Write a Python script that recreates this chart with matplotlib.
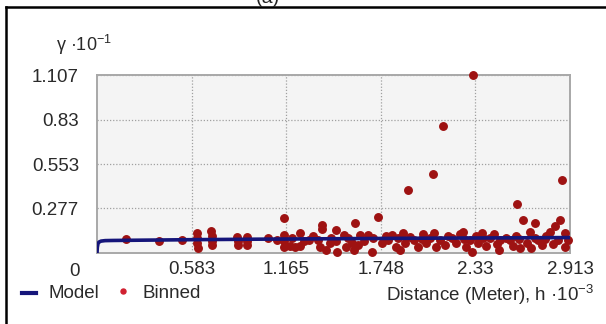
import matplotlib
matplotlib.use("Agg")
import matplotlib.pyplot as plt
from matplotlib.lines import Line2D

# ---- data -------------------------------------------------------------
# fitted semivariogram model (lag h in 10^3 m, gamma in 10^-1)
model_h = [0, 0.002, 0.006, 0.012, 0.025, 0.05, 0.1, 0.3, 0.6, 1.0, 1.5, 2.0, 2.5, 2.913]
model_g = [0, 0.035, 0.058, 0.068, 0.074, 0.077, 0.078, 0.080, 0.083, 0.086, 0.089, 0.092, 0.094, 0.096]

# binned empirical semivariances
binned_h = [
    0.179, 0.382, 0.524, 0.616, 0.616, 0.616, 0.622, 0.702, 0.708, 0.708, 0.708,
    0.862, 0.868, 0.868, 0.924, 0.924, 0.924, 1.053, 1.109, 1.152, 1.152, 1.152,
    1.152, 1.189, 1.219, 1.250, 1.250, 1.275, 1.306, 1.361, 1.373, 1.386, 1.386,
    1.410, 1.435, 1.472, 1.478, 1.472, 1.546, 1.571, 1.589, 1.607, 1.620, 1.583,
    1.534, 1.669, 1.694, 1.644, 1.731, 1.755, 1.792, 1.817, 1.842, 1.854, 1.885,
    1.897, 1.866, 1.915, 1.952, 1.977, 2.008, 2.026, 2.051, 2.069, 2.088, 2.076,
    2.131, 2.113, 2.143, 2.186, 2.211, 2.236, 2.254, 2.273, 2.297, 2.310, 2.316,
    2.334, 2.347, 2.371, 2.396, 2.420, 2.445, 2.464, 2.482, 2.476, 2.544, 2.562,
    2.587, 2.581, 2.605, 2.624, 2.648, 2.667, 2.673, 2.698, 2.716, 2.741, 2.765,
    2.790, 2.808, 2.821, 2.839, 2.852, 2.864, 2.882, 2.882, 2.901,
    1.200, 1.330, 1.440, 1.520, 1.700, 1.780, 1.930, 2.000, 2.160, 2.260, 2.380,
    2.520, 2.600, 2.700, 2.760,
]
binned_g = [
    0.087, 0.075, 0.081, 0.124, 0.093, 0.062, 0.031, 0.137, 0.106, 0.075, 0.050,
    0.100, 0.075, 0.050, 0.100, 0.075, 0.050, 0.093, 0.081, 0.218, 0.112, 0.075,
    0.037, 0.044, 0.037, 0.124, 0.044, 0.075, 0.081, 0.081, 0.037, 0.174, 0.149,
    0.019, 0.062, 0.143, 0.006, 0.075, 0.093, 0.062, 0.187, 0.050, 0.112, 0.019,
    0.037, 0.112, 0.006, 0.075, 0.224, 0.062, 0.081, 0.112, 0.037, 0.093, 0.124,
    0.062, 0.019, 0.392, 0.081, 0.037, 0.118, 0.062, 0.093, 0.491, 0.037, 0.124,
    0.790, 0.081, 0.050, 0.093, 0.062, 0.118, 0.131, 0.037, 0.081, 0.006, 1.107,
    0.106, 0.062, 0.124, 0.044, 0.093, 0.118, 0.056, 0.081, 0.019, 0.081, 0.044,
    0.305, 0.106, 0.031, 0.205, 0.062, 0.131, 0.031, 0.187, 0.081, 0.050, 0.106,
    0.131, 0.056, 0.168, 0.081, 0.205, 0.454, 0.124, 0.037, 0.081,
    0.093, 0.106, 0.093, 0.112, 0.093, 0.106, 0.100, 0.087, 0.106, 0.087, 0.093,
    0.093, 0.087, 0.093, 0.087,
]

x_ticks = [0.583, 1.165, 1.748, 2.33, 2.913]
x_tick_labels = ["0.583", "1.165", "1.748", "2.33", "2.913"]
y_ticks = [0.277, 0.553, 0.83, 1.107]
y_tick_labels = ["0.277", "0.553", "0.83", "1.107"]

# ---- style ------------------------------------------------------------
W, H = 606, 324
FONT = "Liberation Sans"
plt.rcParams["font.family"] = [FONT, "DejaVu Sans"]
MODEL_COLOR = "#15157a"
POINT_COLOR = "#9e1212"
TEXT_COLOR = "#2a2a2a"

fig = plt.figure(figsize=(W / 100, H / 100), dpi=100)
fig.patch.set_facecolor("white")


def fx(px):
    return px / W


def fy(py):
    return 1 - py / H


ax = fig.add_axes([fx(97), fy(253), 473 / W, 178 / H])
ax.set_facecolor("#f4f4f4")
ax.set_xlim(0, 2.913)
ax.set_ylim(0, 1.107)

ax.grid(True, color="#a0a0a0", linestyle=(0, (1, 1.5)), linewidth=0.9)
ax.set_axisbelow(True)

ax.plot(binned_h, binned_g, linestyle="none", marker="o", markersize=5.4,
        markerfacecolor=POINT_COLOR, markeredgecolor=POINT_COLOR, zorder=3,
        clip_on=False)
ax.plot(model_h, model_g, color=MODEL_COLOR, linewidth=2.6, zorder=4,
        solid_capstyle="butt")

ax.set_xticks(x_ticks, x_tick_labels)
ax.set_yticks(y_ticks, y_tick_labels)
ax.tick_params(axis="both", length=0, labelsize=13.5, labelcolor=TEXT_COLOR)
ax.tick_params(axis="x", pad=6)
ax.tick_params(axis="y", pad=13)
for sp in ax.spines.values():
    sp.set_color("#a8a8a8")
    sp.set_linewidth(1.4)

# corner origin label
fig.text(fx(74), fy(271), "0", ha="center", va="center", fontsize=13.5,
         color=TEXT_COLOR)

# axis titles
fig.text(fx(56), fy(51), r"$\mathregular{\gamma}$ ·10$^{\mathregular{-1}}$",
         ha="left", va="baseline", fontsize=13, color=TEXT_COLOR)
fig.text(fx(594), fy(301), r"Distance (Meter), h ·10$^{\mathregular{-3}}$",
         ha="right", va="baseline", fontsize=13.5, color=TEXT_COLOR)

# legend
fig.add_artist(Line2D([fx(22), fx(36)], [fy(293), fy(293)], color=MODEL_COLOR,
                      linewidth=3.0, transform=fig.transFigure))
fig.text(fx(48), fy(293), "Model", ha="left", va="center", fontsize=13.5,
         color=TEXT_COLOR)
fig.add_artist(Line2D([fx(123)], [fy(291)], linestyle="none", marker="o",
                      markersize=3.6, color="#d02030",
                      transform=fig.transFigure))
fig.text(fx(143), fy(293), "Binned", ha="left", va="center", fontsize=13.5,
         color=TEXT_COLOR)

# panel caption, mostly above the top edge
fig.text(fx(268), fy(3), "(a)", ha="center", va="baseline", fontsize=14,
         color="#222222")

# outer frame lines
fig.add_artist(Line2D([fx(6), fx(6)], [fy(7), fy(H + 2)], color="black",
                      linewidth=1.8, transform=fig.transFigure))
fig.add_artist(Line2D([fx(6), fx(W + 2)], [fy(7), fy(7)], color="black",
                      linewidth=1.8, transform=fig.transFigure))

fig.savefig("out.png", dpi=100)
